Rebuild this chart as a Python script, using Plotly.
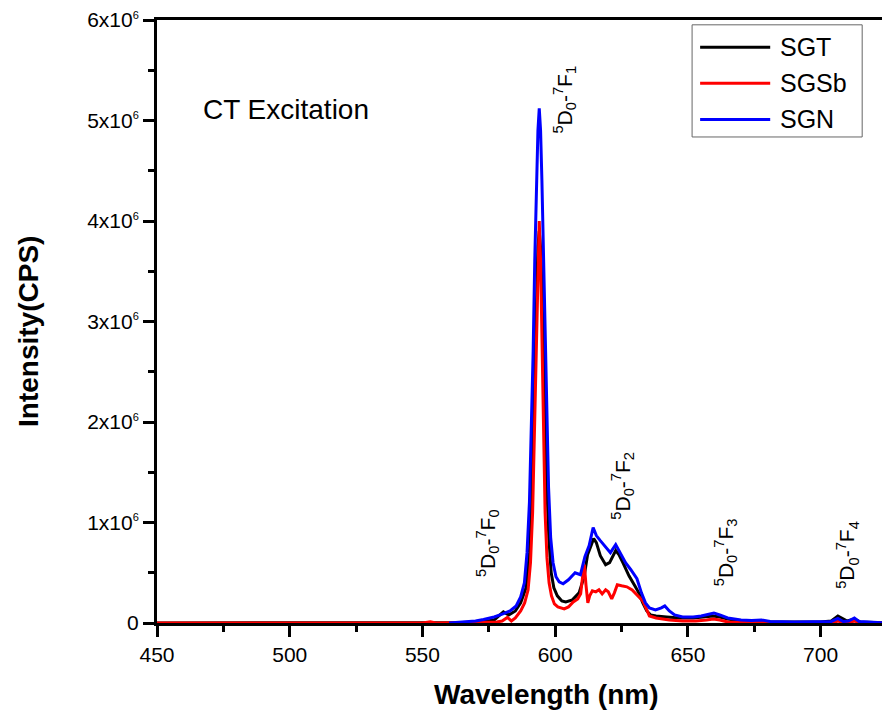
import numpy as np
import plotly.graph_objects as go

# emission spectra (intensity in units of 1e6 CPS)
wl_sgt = [450, 500, 550, 565, 572, 577, 580.5, 582.5, 585, 587, 589, 590.3, 591.2, 592.0,
          592.8, 593.5, 594.0, 594.6, 595.3, 596.0, 596.8, 597.6, 598.5, 599.5, 600.8,
          602.5, 604, 606.5, 609, 610.9, 612.2, 613.5, 614.5, 615.5, 617, 619, 620.5,
          622.8, 624, 625.5, 627.8, 630, 631.5, 633, 634.5, 636, 638, 642, 647, 652, 656,
          659.5, 662, 665, 670, 680, 700, 704, 706.5, 708, 710, 712.7, 715, 720, 725]
sgt = [0, 0, 0, 0.005, 0.01, 0.03, 0.11, 0.08, 0.12, 0.2, 0.35, 0.7, 1.3, 2.2,
       3.2, 3.75, 3.9, 3.7, 3.0, 2.2, 1.4, 0.85, 0.5, 0.35, 0.27,
       0.22, 0.21, 0.23, 0.3, 0.46, 0.68, 0.77, 0.84, 0.8, 0.67, 0.58, 0.6,
       0.72, 0.68, 0.6, 0.47, 0.37, 0.3, 0.2, 0.12, 0.08, 0.07, 0.06, 0.05, 0.05, 0.06,
       0.07, 0.06, 0.04, 0.02, 0.01, 0.01, 0.02, 0.07, 0.05, 0.02, 0.04, 0.01, 0.005, 0]

wl_sgsb = [450, 520, 550, 553, 555, 570, 578, 580, 582, 583.5, 585, 587, 588.5, 589.8,
           590.7, 591.5, 592.2, 592.9, 593.5, 594.0, 594.5, 595.0, 595.6, 596.2, 596.9,
           597.7, 598.6, 599.7, 601, 603.4, 605, 606.8, 608.5, 609.6, 610.5, 611.0, 611.6,
           612.3, 613.0, 614.0, 615.3, 616.5, 617.7, 619.0, 620.0, 621.3, 622.3, 623.4,
           625, 627, 629, 631, 633, 634.5, 635.5, 638, 643, 648, 653, 657, 659.6, 662,
           665, 675, 700, 705, 706.5, 708.5, 711, 712.7, 714.5, 720, 725]
sgsb = [0, 0, 0, 0.012, 0, 0.005, 0.01, 0.02, 0.055, 0.02, 0.05, 0.12, 0.2, 0.33,
        0.6, 1.1, 1.9, 2.9, 3.7, 4.0, 3.6, 2.8, 1.8, 1.1, 0.65,
        0.4, 0.27, 0.19, 0.16, 0.14, 0.16, 0.21, 0.24, 0.29, 0.5, 0.58, 0.38,
        0.2, 0.27, 0.32, 0.31, 0.33, 0.29, 0.33, 0.31, 0.24, 0.3, 0.38,
        0.37, 0.36, 0.33, 0.28, 0.22, 0.13, 0.07, 0.05, 0.03, 0.02, 0.02, 0.03, 0.04, 0.03,
        0.01, 0.005, 0, 0.005, 0.02, 0.005, 0.005, 0.02, 0.005, 0, 0]

wl_sgn = [560, 565, 570, 573, 577, 580.3, 583, 585.3, 587, 588.4, 589.4, 590.3, 591.0,
          591.7, 592.3, 592.9, 593.5, 594.0, 594.5, 595.0, 595.6, 596.2, 596.8, 597.5,
          598.3, 599.2, 600.3, 601.5, 603.0, 605, 607.5, 609.5, 611.2, 612.8, 614.3,
          615.5, 617, 619, 620.8, 622.8, 624.5, 626.5, 628.5, 630.8, 632.5, 634, 635.5,
          637.8, 640, 641.3, 643, 645, 648, 652, 655, 658, 659.8, 662, 665, 670, 674,
          677.7, 681, 690, 700, 704, 706.5, 708.5, 710.5, 712.7, 714.5, 720, 724]
sgn = [0, 0.01, 0.02, 0.035, 0.06, 0.09, 0.12, 0.17, 0.26, 0.4, 0.7, 1.2, 1.9,
       2.7, 3.6, 4.4, 4.9, 5.12, 4.9, 4.4, 3.6, 2.8, 2.0, 1.35,
       0.85, 0.6, 0.46, 0.41, 0.39, 0.43, 0.5, 0.48, 0.66, 0.77, 0.95,
       0.87, 0.82, 0.76, 0.7, 0.78, 0.7, 0.6, 0.53, 0.44, 0.3, 0.2, 0.15,
       0.13, 0.15, 0.17, 0.12, 0.08, 0.06, 0.06, 0.07, 0.09, 0.1, 0.08, 0.05, 0.03, 0.025,
       0.03, 0.015, 0.01, 0.01, 0.015, 0.045, 0.015, 0.02, 0.05, 0.015, 0.005, 0]

series_names = ["SGT", "SGSb", "SGN"]
series_colors = ["black", "#ff0000", "#0000ff"]

# transition labels
trans_labels = ["<sup>5</sup>D<sub>0</sub>-<sup>7</sup>F<sub>%d</sub>" % i for i in range(5)]
trans_x = [574.5, 603.4, 625.3, 664.2, 710]
trans_y = [0.80e6, 5.21e6, 1.37e6, 0.70e6, 0.68e6]

ytick_vals = [0, 1e6, 2e6, 3e6, 4e6, 5e6, 6e6]
ytick_text = ["0"] + ['%dx10<sup><span style="font-size:11px">6</span></sup>' % i
                      for i in range(1, 7)]

FONT = "Arial, Liberation Sans, sans-serif"

fig = go.Figure()
for name, x, y, col in zip(series_names, [wl_sgt, wl_sgsb, wl_sgn],
                           [sgt, sgsb, sgn], series_colors):
    fig.add_trace(go.Scatter(x=x, y=np.array(y) * 1e6, mode="lines", name=name,
                             line=dict(color=col, width=3), showlegend=False))

for t, x, y in zip(trans_labels, trans_x, trans_y):
    fig.add_annotation(x=x, y=y, text=t, textangle=-90, showarrow=False,
                       xanchor="center", yanchor="middle",
                       font=dict(size=21, color="black", family=FONT))

fig.add_annotation(x=466.6, y=5.11e6, text="CT Excitation", showarrow=False,
                   xanchor="left", yanchor="middle",
                   font=dict(size=28, color="black", family=FONT))

# axis titles (placed as in the original, slightly off-centre)
fig.add_annotation(xref="paper", yref="paper", x=0.534, y=-0.119,
                   xanchor="center", yanchor="middle",
                   text="<b>Wavelength (nm)</b>", showarrow=False,
                   font=dict(size=28, color="black", family=FONT))
fig.add_annotation(xref="paper", yref="paper", x=-0.177, y=0.484, textangle=-90,
                   xanchor="center", yanchor="middle",
                   text="<b>Intensity(CPS)</b>", showarrow=False,
                   font=dict(size=28, color="black", family=FONT))

# legend box drawn like the original (long line samples)
fig.add_shape(type="rect", xref="paper", yref="paper", x0=0.733, x1=0.966,
              y0=0.806, y1=0.992, line=dict(color="#666666", width=1),
              fillcolor="white", layer="above")
for i, (name, col) in enumerate(zip(series_names, series_colors)):
    yy = 0.955 - i * 0.06
    fig.add_shape(type="line", xref="paper", yref="paper", x0=0.744, x1=0.840,
                  y0=yy, y1=yy, line=dict(color=col, width=3), layer="above")
    fig.add_annotation(xref="paper", yref="paper", x=0.851, y=yy, text=name,
                       xanchor="left", yanchor="middle", showarrow=False,
                       font=dict(size=25, color="black", family=FONT))

axis_common = dict(showline=True, linecolor="black", linewidth=3, mirror=True,
                   ticks="outside", tickwidth=3, ticklen=11, tickcolor="black",
                   showgrid=False, zeroline=False, ticklabeloverflow="allow",
                   automargin=False,
                   tickfont=dict(size=21, color="black", family=FONT))

fig.update_xaxes(range=[450, 725], tickvals=[450, 500, 550, 600, 650, 700],
                 minor=dict(tickvals=[475, 525, 575, 625, 675, 725], ticks="outside",
                            ticklen=6, tickwidth=3, tickcolor="black"),
                 **axis_common)
fig.update_yaxes(range=[0, 6e6], tickvals=ytick_vals, ticktext=ytick_text,
                 minor=dict(tickvals=[0.5e6, 1.5e6, 2.5e6, 3.5e6, 4.5e6, 5.5e6],
                            ticks="outside", ticklen=6, tickwidth=3, tickcolor="black"),
                 **axis_common)

fig.update_layout(
    width=890, height=719,
    margin=dict(l=149, r=11, t=12, b=104),
    plot_bgcolor="white", paper_bgcolor="white",
    font=dict(family=FONT, color="black"),
    showlegend=False,
)

fig.write_html("out.html")
